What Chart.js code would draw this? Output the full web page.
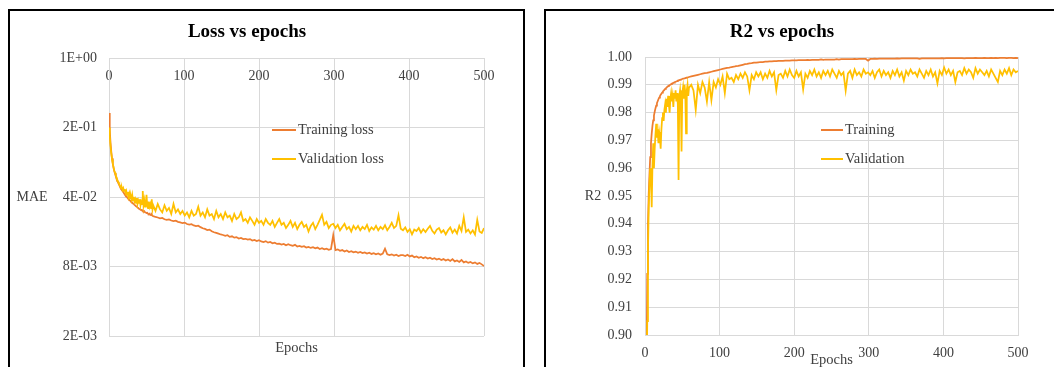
<!DOCTYPE html>
<html lang="en">
<head>
  <meta charset="UTF-8">
  <title>Loss and R2 vs epochs</title>
  <script src="https://cdn.jsdelivr.net/npm/chart.js"></script>
  <style>
    body { margin: 0; background: #fff; overflow: hidden; }
    .panel { position: absolute; top: 9px; height: 360px; border: 2px solid #000; background: #fff; }
    #lossPanel { left: 8px; width: 513px; }
    #r2Panel { left: 544px; width: 514px; }
    canvas { display: block; }
  </style>
</head>
<body>
  <div class="panel" id="lossPanel"><canvas id="lossChart" width="513" height="356"></canvas></div>
  <div class="panel" id="r2Panel"><canvas id="r2Chart" width="514" height="356"></canvas></div>

  <script>
    const epochs = [
      0,1,2,3,4,5,6,7,8,9, 10,11,12,13,14,15,16,17,18,19,
      20,21,22,23,24,25,26,27,28,29, 30,31,32,33,34,35,36,37,38,39,
      40,41,42,43,44,45,46,47,48,49, 50,51,52,53,54,55,56,57,58,59,
      62,65,68,71,74,77,80,83,86,89, 92,95,98,101,104,107,110,113,116,119,
      122,125,128,131,134,137,140,143,146,149, 152,155,158,161,164,167,170,173,176,179,
      182,185,188,191,194,197,200,203,206,209, 212,215,218,221,224,227,230,233,236,239,
      242,245,248,251,254,257,260,263,266,269, 272,275,278,281,284,287,290,293,296,299,
      302,305,308,311,314,317,320,323,326,329, 332,335,338,341,344,347,350,353,356,359,
      362,365,368,371,374,377,380,383,386,389, 392,395,398,401,404,407,410,413,416,419,
      422,425,428,431,434,437,440,443,446,449, 452,455,458,461,464,467,470,473,476,479,
      482,485,488,491,494,497,500
    ];

    const trainLoss = [
      0.28, 0.19, 0.14, 0.115, 0.098, 0.087, 0.079, 0.073, 0.069, 0.065,
      0.062, 0.059, 0.056, 0.054, 0.052, 0.05, 0.048, 0.047, 0.046, 0.0448,
      0.0437, 0.0425, 0.0418, 0.0406, 0.0399, 0.039, 0.0383, 0.0374, 0.0369, 0.0361,
      0.0355, 0.0352, 0.0343, 0.034, 0.0333, 0.0329, 0.0322, 0.032, 0.0314, 0.0311,
      0.0305, 0.0302, 0.0299, 0.0294, 0.0296, 0.0289, 0.0286, 0.0288, 0.0281, 0.0279,
      0.0276, 0.0278, 0.0271, 0.0269, 0.0272, 0.0265, 0.0263, 0.0266, 0.0259, 0.0257,
      0.0252, 0.0249, 0.0244, 0.0246, 0.0239, 0.0236, 0.0238, 0.0232, 0.0229, 0.0231,
      0.0225, 0.0222, 0.0218, 0.0221, 0.0214, 0.0211, 0.0213, 0.0207, 0.0204, 0.0206,
      0.0199, 0.0194, 0.0191, 0.0186, 0.0188, 0.0181, 0.0177, 0.0174, 0.0171, 0.0168,
      0.0166, 0.0163, 0.0165, 0.0159, 0.0161, 0.0156, 0.0158, 0.0153, 0.0155, 0.0151,
      0.0152, 0.0149, 0.0151, 0.0146, 0.0148, 0.0144, 0.0147, 0.0143, 0.0141, 0.0144,
      0.0139, 0.0141, 0.0137, 0.0139, 0.0135, 0.0136, 0.0133, 0.0135, 0.0131, 0.0134,
      0.0131, 0.0129, 0.0132, 0.0127, 0.0129, 0.0126, 0.0128, 0.0124, 0.0126, 0.0123,
      0.0125, 0.0122, 0.0124, 0.012, 0.0122, 0.0119, 0.0121, 0.0118, 0.012, 0.0165,
      0.0117, 0.0119, 0.0115, 0.0117, 0.0113, 0.0116, 0.0112, 0.0114, 0.0111, 0.0113,
      0.011, 0.0112, 0.0109, 0.0111, 0.0108, 0.011, 0.0107, 0.0109, 0.0106, 0.0108,
      0.0105, 0.0108, 0.0121, 0.0106, 0.0104, 0.0106, 0.0103, 0.0105, 0.0102, 0.0104,
      0.0104, 0.0102, 0.0105, 0.0101, 0.0103, 0.0099, 0.0101, 0.0098, 0.01, 0.0097,
      0.0099, 0.0096, 0.0098, 0.0095, 0.0097, 0.0094, 0.0096, 0.0093, 0.0095, 0.0092,
      0.0094, 0.0091, 0.0095, 0.009, 0.0092, 0.0089, 0.0093, 0.0088, 0.009, 0.0087,
      0.0089, 0.0086, 0.0088, 0.0085, 0.0087, 0.0084, 0.0081
    ];

    const valLoss = [
      0.2, 0.165, 0.13, 0.11, 0.096, 0.087, 0.08, 0.074, 0.07, 0.066,
      0.063, 0.06, 0.057, 0.055, 0.053, 0.051, 0.049, 0.05, 0.047, 0.049,
      0.046, 0.048, 0.044, 0.046, 0.042, 0.045, 0.04, 0.043, 0.039, 0.041,
      0.038, 0.042, 0.037, 0.04, 0.036, 0.038, 0.035, 0.039, 0.034, 0.037,
      0.035, 0.038, 0.033, 0.036, 0.034, 0.046, 0.033, 0.037, 0.032, 0.035,
      0.042, 0.033, 0.031, 0.036, 0.032, 0.034, 0.031, 0.038, 0.03, 0.033,
      0.029, 0.034, 0.03, 0.028, 0.033, 0.029, 0.031, 0.027, 0.034, 0.028,
      0.03, 0.027, 0.029, 0.026, 0.028, 0.025, 0.029, 0.026, 0.027, 0.032,
      0.026, 0.028, 0.025, 0.03, 0.026, 0.027, 0.024, 0.029, 0.025, 0.027,
      0.024, 0.028, 0.025, 0.026, 0.023, 0.027, 0.024, 0.025, 0.028, 0.023,
      0.024, 0.022, 0.025, 0.023, 0.021, 0.024, 0.022, 0.023, 0.021, 0.024,
      0.022, 0.021, 0.023, 0.02, 0.022, 0.024, 0.021, 0.022, 0.0195, 0.021,
      0.023, 0.02, 0.022, 0.019, 0.021, 0.0225, 0.02, 0.021, 0.018, 0.0205,
      0.022, 0.019, 0.021, 0.0235, 0.0265, 0.021, 0.0225, 0.0195, 0.021, 0.0215,
      0.0195, 0.021, 0.0185, 0.02, 0.0215, 0.019, 0.02, 0.018, 0.0205, 0.019,
      0.0205, 0.0185, 0.02, 0.019, 0.021, 0.0182, 0.0198, 0.0188, 0.0205, 0.0185,
      0.02, 0.019, 0.0208, 0.0185, 0.02, 0.022, 0.0195, 0.0205, 0.0262, 0.0192,
      0.0185, 0.0198, 0.0178, 0.019, 0.0168, 0.0188, 0.0182, 0.0195, 0.0175, 0.019,
      0.0178, 0.0192, 0.0205, 0.0183, 0.0172, 0.0188, 0.0195, 0.0176, 0.0185, 0.0168,
      0.0185, 0.0198, 0.0175, 0.0188, 0.0172, 0.0205, 0.0182, 0.025, 0.0178, 0.0188,
      0.0172, 0.0185, 0.0168, 0.0236, 0.018, 0.0174, 0.0195
    ];

    const trainR2 = [
      0.40, 0.78, 0.885, 0.922, 0.94, 0.951, 0.958, 0.964, 0.969, 0.9725,
      0.9752, 0.9772, 0.9789, 0.9803, 0.9815, 0.9825, 0.9834, 0.9841, 0.9848, 0.9854,
      0.9859, 0.9864, 0.9868, 0.9872, 0.9876, 0.9879, 0.9882, 0.9885, 0.9888, 0.989,
      0.9893, 0.9895, 0.9897, 0.9899, 0.99, 0.9902, 0.9904, 0.9905, 0.9907, 0.9908,
      0.991, 0.9911, 0.9912, 0.9913, 0.9915, 0.9916, 0.9917, 0.9918, 0.9919, 0.992,
      0.9921, 0.9922, 0.9922, 0.9923, 0.9924, 0.9925, 0.9926, 0.9926, 0.9927, 0.9928,
      0.993, 0.9932, 0.9934, 0.9936, 0.9938, 0.994, 0.9942, 0.9943, 0.9945, 0.9947,
      0.9949, 0.9951, 0.9953, 0.9955, 0.9957, 0.9959, 0.9961, 0.9962, 0.9964, 0.9965,
      0.9967, 0.9968, 0.997, 0.9972, 0.9974, 0.9975, 0.9977, 0.9978, 0.998, 0.998,
      0.9981, 0.9982, 0.9982, 0.9983, 0.9983, 0.9984, 0.9984, 0.9985, 0.9985, 0.9986,
      0.9986, 0.9986, 0.9987, 0.9987, 0.9987, 0.9988, 0.9988, 0.9988, 0.9989, 0.9989,
      0.9989, 0.9989, 0.999, 0.9989, 0.999, 0.999, 0.999, 0.999, 0.9991, 0.999,
      0.9991, 0.9991, 0.9991, 0.9991, 0.9991, 0.9992, 0.9991, 0.9992, 0.9992, 0.9992,
      0.9992, 0.9992, 0.9992, 0.9993, 0.9992, 0.9993, 0.9993, 0.9993, 0.9993, 0.9987,
      0.9993, 0.9993, 0.9994, 0.9993, 0.9994, 0.9994, 0.9994, 0.9994, 0.9994, 0.9994,
      0.9994, 0.9994, 0.9995, 0.9994, 0.9995, 0.9995, 0.9995, 0.9995, 0.9995, 0.9995,
      0.9995, 0.9995, 0.9993, 0.9995, 0.9995, 0.9995, 0.9995, 0.9995, 0.9995, 0.9995,
      0.9995, 0.9995, 0.9996, 0.9995, 0.9996, 0.9996, 0.9996, 0.9996, 0.9996, 0.9996,
      0.9996, 0.9996, 0.9995, 0.9996, 0.9996, 0.9996, 0.9996, 0.9997, 0.9996, 0.9996,
      0.9996, 0.9997, 0.9996, 0.9996, 0.9997, 0.9996, 0.9997, 0.9996, 0.9997, 0.9997,
      0.9997, 0.9996, 0.9997, 0.9997, 0.9996, 0.9997, 0.9996
    ];

    const valR2 = [
      0.30, 0.72, 0.87, 0.905, 0.93, 0.946, 0.954, 0.96, 0.957, 0.946,
      0.961, 0.969, 0.96, 0.967, 0.972, 0.976, 0.971, 0.974, 0.969, 0.973,
      0.971, 0.967, 0.974, 0.978, 0.98, 0.977, 0.981, 0.983, 0.98, 0.985,
      0.982, 0.986, 0.983, 0.98, 0.985, 0.987, 0.984, 0.986, 0.982, 0.987,
      0.985, 0.988, 0.984, 0.987, 0.983, 0.9558, 0.986, 0.988, 0.984, 0.966,
      0.987, 0.989, 0.985, 0.99, 0.987, 0.9725, 0.988, 0.99, 0.986, 0.989,
      0.99, 0.988, 0.981, 0.99, 0.987, 0.991, 0.989, 0.984, 0.991, 0.9845,
      0.991, 0.989, 0.992, 0.99, 0.993, 0.987, 0.994, 0.992, 0.9925, 0.991,
      0.9935, 0.992, 0.994, 0.9925, 0.9945, 0.993, 0.988, 0.9935, 0.992, 0.9945,
      0.993, 0.9945, 0.992, 0.994, 0.9925, 0.995, 0.993, 0.9945, 0.9881, 0.9935,
      0.994, 0.9925, 0.995, 0.993, 0.9955, 0.9935, 0.9925, 0.995, 0.993, 0.9945,
      0.9884, 0.994, 0.9925, 0.995, 0.9935, 0.9955, 0.993, 0.9945, 0.9925, 0.995,
      0.9935, 0.995, 0.993, 0.9955, 0.994, 0.9925, 0.995, 0.9935, 0.9945, 0.9879,
      0.994, 0.995, 0.9925, 0.9955, 0.9935, 0.9945, 0.993, 0.9955, 0.994, 0.9945,
      0.9935, 0.995, 0.9925, 0.9945, 0.9955, 0.993, 0.995, 0.9935, 0.9945, 0.9925,
      0.995, 0.9935, 0.9955, 0.993, 0.9945, 0.9915, 0.995, 0.9935, 0.9955, 0.994,
      0.9945, 0.993, 0.9955, 0.994, 0.9925, 0.995, 0.9935, 0.9955, 0.993, 0.9945,
      0.9905, 0.995, 0.9935, 0.9962, 0.994, 0.9955, 0.9935, 0.995, 0.991, 0.9945,
      0.995, 0.9935, 0.996, 0.994, 0.9955, 0.9945, 0.9925, 0.996, 0.994, 0.9955,
      0.9945, 0.9935, 0.995, 0.993, 0.9955, 0.994, 0.9925, 0.991, 0.995, 0.9935,
      0.9955, 0.994, 0.996, 0.9935, 0.9955, 0.9945, 0.995
    ];

    const lossTicks = [1, 0.2, 0.04, 0.008, 0.0016];
    const r2Ticks = [0.90, 0.91, 0.92, 0.93, 0.94, 0.95, 0.96, 0.97, 0.98, 0.99, 1.00];

    const ORANGE = '#ED7D31';
    const GOLD = '#FFC000';
    const GRID = '#d9d9d9';
    const SERIF = '"Liberation Serif", "Times New Roman", serif';

    Chart.defaults.font.family = SERIF;
    Chart.defaults.color = '#404040';

    const pts = arr => epochs.map((e, i) => ({ x: e, y: arr[i] }));

    // 2E-01 style labels like Excel's 0E+00 format
    function sciLabel(v) {
      const [m, e] = v.toExponential(0).split('e');
      const n = parseInt(e, 10);
      return m + 'E' + (n < 0 ? '-' : '+') + String(Math.abs(n)).padStart(2, '0');
    }

    // y axis title written flat, left of the ticks
    const flatYTitle = {
      id: 'flatYTitle',
      afterDraw(chart, args, opts) {
        const { ctx, chartArea } = chart;
        ctx.save();
        ctx.font = '14px ' + SERIF;
        ctx.fillStyle = '#404040';
        ctx.textAlign = 'center';
        ctx.textBaseline = 'middle';
        ctx.fillText(opts.text, opts.x, (chartArea.top + chartArea.bottom) / 2);
        ctx.restore();
      }
    };

    // legend drawn inside the plot area
    const innerLegend = {
      id: 'innerLegend',
      afterDatasetsDraw(chart, args, opts) {
        const { ctx, chartArea } = chart;
        ctx.save();
        ctx.font = '14.5px ' + SERIF;
        ctx.textBaseline = 'middle';
        chart.data.datasets.forEach((ds, i) => {
          const x = chartArea.left + opts.x;
          const y = chartArea.top + opts.y + i * 29;
          ctx.strokeStyle = ds.borderColor;
          ctx.lineWidth = 2;
          ctx.beginPath();
          ctx.moveTo(x, y);
          ctx.lineTo(x + opts.len, y);
          ctx.stroke();
          ctx.fillStyle = '#404040';
          ctx.fillText(ds.label, x + opts.len + 2, y);
        });
        ctx.restore();
      }
    };

    const line = (label, data, color, order) => ({
      label, data: pts(data), borderColor: color, backgroundColor: color,
      borderWidth: 1.75, pointRadius: 0, tension: 0, order
    });

    new Chart(document.getElementById('lossChart'), {
      type: 'line',
      data: {
        datasets: [
          line('Training loss', trainLoss, ORANGE, 1),
          line('Validation loss', valLoss, GOLD, 0)
        ]
      },
      options: {
        responsive: false,
        animation: false,
        layout: { padding: { right: 39 } },
        plugins: {
          legend: { display: false },
          tooltip: { enabled: false },
          title: {
            display: true, text: 'Loss vs epochs', color: '#000',
            font: { size: 19, weight: 'bold' }, padding: { top: 9.6, bottom: 14.6 }
          },
          flatYTitle: { text: 'MAE', x: 22 },
          innerLegend: { x: 163, y: 72, len: 24 }
        },
        scales: {
          x: {
            // top axis, labels mirrored into the plot just under the top edge
            type: 'linear', position: 'top', min: 0, max: 500,
            afterFit: s => { s.height = 0; },
            ticks: { stepSize: 100, mirror: true, padding: 10, font: { size: 14 } },
            grid: { color: GRID, drawTicks: false },
            border: { color: GRID }
          },
          x2: {
            type: 'linear', position: 'bottom', min: 0, max: 500,
            afterFit: s => { s.height = 31; },
            ticks: { display: false },
            grid: { display: false },
            border: { display: false },
            title: { display: true, text: 'Epochs', font: { size: 14.5 }, padding: { top: 0, bottom: 10 } }
          },
          y: {
            type: 'logarithmic', min: 0.0016, max: 1,
            afterFit: s => { s.width = 99; },
            afterBuildTicks: s => { s.ticks = lossTicks.map(v => ({ value: v })); },
            ticks: { padding: 12, font: { size: 14 }, callback: v => sciLabel(v) },
            grid: { color: GRID, drawTicks: false },
            border: { color: GRID }
          }
        }
      },
      plugins: [flatYTitle, innerLegend]
    });

    new Chart(document.getElementById('r2Chart'), {
      type: 'line',
      data: {
        datasets: [
          line('Training', trainR2, ORANGE, 1),
          line('Validation', valR2, GOLD, 0)
        ]
      },
      options: {
        responsive: false,
        animation: false,
        layout: { padding: { right: 42 } },
        plugins: {
          legend: { display: false },
          tooltip: { enabled: false },
          title: {
            display: true, text: 'R2 vs epochs', color: '#000',
            font: { size: 19, weight: 'bold' }, padding: { top: 9.6, bottom: 13.6 }
          },
          flatYTitle: { text: 'R2', x: 47 },
          innerLegend: { x: 176, y: 73, len: 22 }
        },
        scales: {
          x: {
            type: 'linear', position: 'bottom', min: 0, max: 500,
            afterFit: s => { s.height = 32; },
            ticks: { stepSize: 100, padding: 10, font: { size: 14 } },
            grid: { color: GRID, drawTicks: false },
            border: { color: GRID },
            title: { display: true, text: 'Epochs', font: { size: 14.5 }, padding: { top: 0, bottom: -1.5 } }
          },
          y: {
            min: 0.9, max: 1.0,
            afterFit: s => { s.width = 99; },
            afterBuildTicks: s => { s.ticks = r2Ticks.map(v => ({ value: v })); },
            ticks: { padding: 13, font: { size: 14 }, callback: v => v.toFixed(2) },
            grid: { color: GRID, drawTicks: false },
            border: { color: GRID }
          }
        }
      },
      plugins: [flatYTitle, innerLegend]
    });
  </script>
</body>
</html>
